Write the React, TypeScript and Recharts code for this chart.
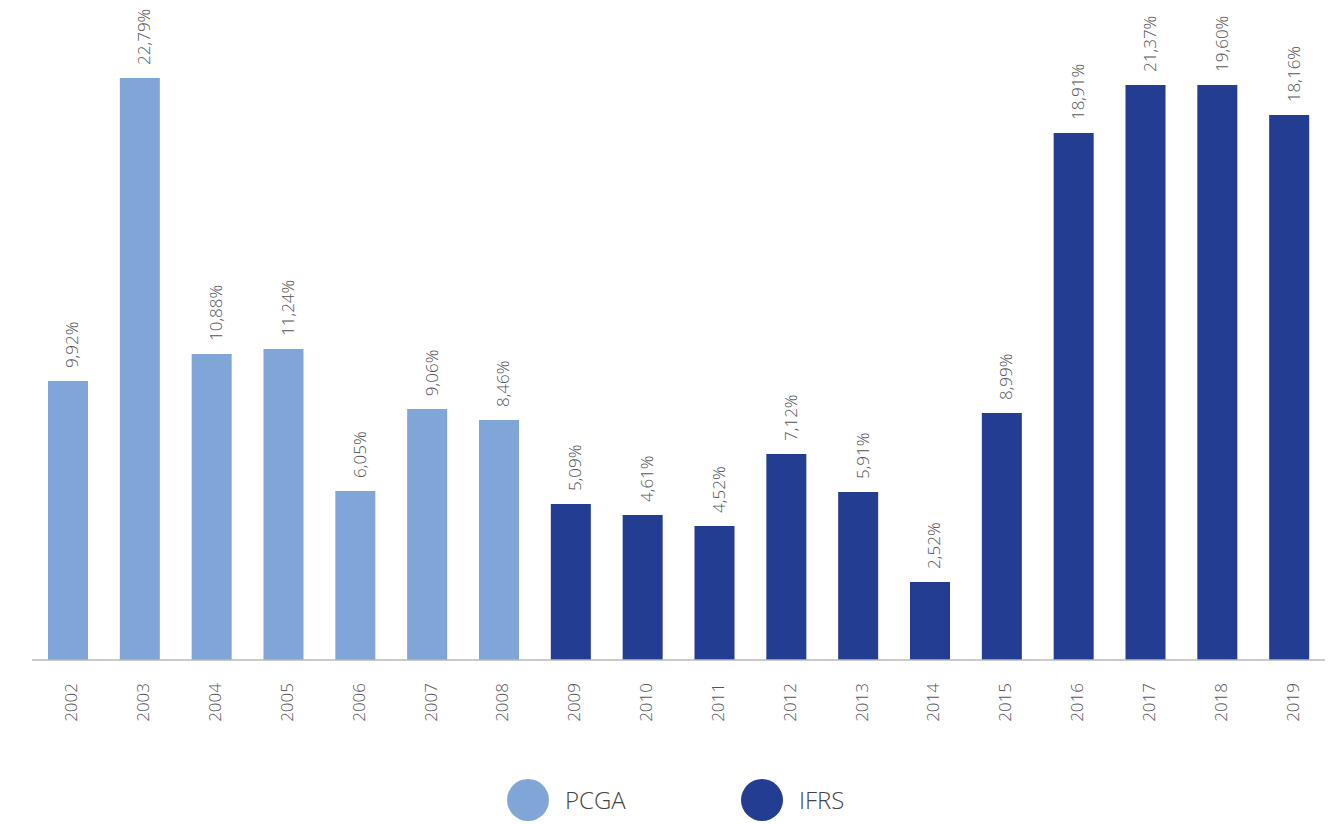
import { BarChart, Bar, XAxis, YAxis, Cell, LabelList } from 'recharts'

const years = ['2002', '2003', '2004', '2005', '2006', '2007', '2008', '2009', '2010', '2011', '2012', '2013', '2014', '2015', '2016', '2017', '2018', '2019']
// bar heights as drawn in the picture (in %)
const heights = [9.96, 20.79, 10.93, 11.11, 6.04, 8.96, 8.57, 5.57, 5.18, 4.79, 7.36, 6.0, 2.79, 8.82, 18.82, 20.54, 20.54, 19.46]
const labels = ['9,92%', '22,79%', '10,88%', '11,24%', '6,05%', '9,06%', '8,46%', '5,09%', '4,61%', '4,52%', '7,12%', '5,91%', '2,52%', '8,99%', '18,91%', '21,37%', '19,60%', '18,16%']
const standards = ['PCGA', 'PCGA', 'PCGA', 'PCGA', 'PCGA', 'PCGA', 'PCGA', 'IFRS', 'IFRS', 'IFRS', 'IFRS', 'IFRS', 'IFRS', 'IFRS', 'IFRS', 'IFRS', 'IFRS', 'IFRS']

const COLORS: Record<string, string> = { PCGA: '#80a6d8', IFRS: '#233d92' }
const FONT = '"Open Sans", "DejaVu Sans", sans-serif'

const data = years.map((y, i) => ({ year: y, value: heights[i], label: labels[i], std: standards[i] }))

function YearTick({ x, payload }: { x?: number; y?: number; payload?: { value: string } }) {
  const tx = (x ?? 0) + 3
  const ty = 683
  return (
    <text
      x={tx}
      y={ty}
      transform={`rotate(-90 ${tx} ${ty})`}
      textAnchor="end"
      dominantBaseline="central"
      fontSize={17}
      fontWeight={300}
      fontFamily={FONT}
      fill="#555"
    >
      {payload?.value}
    </text>
  )
}

function ValueLabel(props: any) {
  const { x, y, width, index } = props
  const cx = x + width / 2 + 4
  const cy = y - 13
  return (
    <text
      x={cx}
      y={cy}
      transform={`rotate(-90 ${cx} ${cy})`}
      textAnchor="start"
      dominantBaseline="central"
      fontSize={17}
      fontWeight={300}
      fontFamily={FONT}
      fill="#555"
    >
      {labels[index]}
    </text>
  )
}

function LegendItem({ name, left }: { name: string; left: number }) {
  return (
    <div style={{ position: 'absolute', left, top: 779, display: 'flex', alignItems: 'center' }}>
      <div style={{ width: 42, height: 42, borderRadius: '50%', background: COLORS[name] }} />
      <span style={{ marginLeft: 16, fontSize: 24, fontWeight: 300, fontFamily: FONT, color: '#444', lineHeight: '42px' }}>{name}</span>
    </div>
  )
}

export default function App() {
  return (
    <div style={{ position: 'absolute', left: 0, top: 0, width: 1333, height: 824, background: '#fff' }}>
      <BarChart width={1333} height={824} data={data} margin={{ top: 72, right: 8, bottom: 0, left: 32 }}>
        <XAxis
          dataKey="year"
          tick={<YearTick />}
          tickLine={false}
          axisLine={{ stroke: '#b8b8b8', strokeWidth: 1.5 }}
          interval={0}
          height={164}
        />
        <YAxis hide domain={[0, 21]} />
        <Bar dataKey="value" barSize={40} isAnimationActive={false}>
          {data.map((d, i) => (
            <Cell key={i} fill={COLORS[d.std]} />
          ))}
          <LabelList dataKey="label" content={<ValueLabel />} />
        </Bar>
      </BarChart>
      <LegendItem name="PCGA" left={507} />
      <LegendItem name="IFRS" left={741} />
    </div>
  )
}
